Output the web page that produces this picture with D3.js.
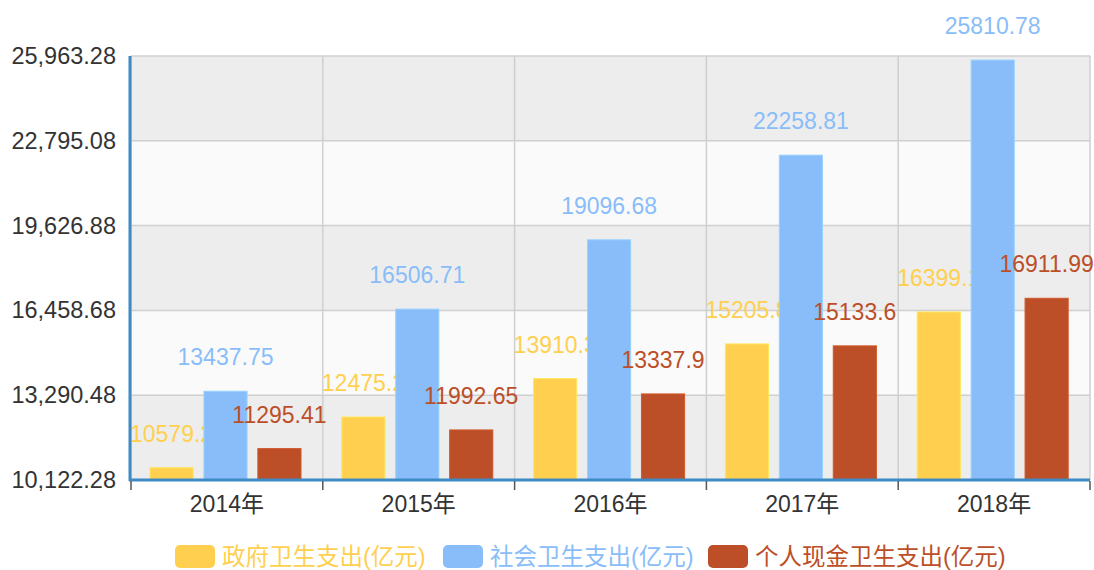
<!DOCTYPE html>
<html>
<head>
<meta charset="utf-8">
<script src="https://cdn.jsdelivr.net/npm/d3@7"></script>
<style>
  body { margin: 0; background: #fff; }
  text { font-family: "Liberation Sans", Arial, "Noto Sans CJK SC", sans-serif; }
</style>
</head>
<body>
<div id="main"></div>
<script>
const years = ["2014年", "2015年", "2016年", "2017年", "2018年"];
const seriesNames = ["政府卫生支出(亿元)", "社会卫生支出(亿元)", "个人现金卫生支出(亿元)"];
const govSpend = [10579.2, 12475.2, 13910.3, 15205.8, 16399.1];
const socSpend = [13437.75, 16506.71, 19096.68, 22258.81, 25810.78];
const perSpend = [11295.41, 11992.65, 13337.9, 15133.6, 16911.99];
const yTicks = [10122.28, 13290.48, 16458.68, 19626.88, 22795.08, 25963.28];
const colors = ["#ffd04f", "#89bdf9", "#bc4f27"];

const ctx = { WIDTH: 1094, HEIGHT: 570 };

function draw() {
  const left = 131, right = 1090, top = 56, bottom = 480;
  const svg = d3.select("#main").append("svg")
      .attr("width", ctx.WIDTH).attr("height", ctx.HEIGHT);

  const x = d3.scaleBand().domain(years).range([left, right]);
  const y = d3.scaleLinear().domain([yTicks[0], yTicks[yTicks.length - 1]]).range([bottom, top]);
  // bars sit a bit left of the category centre, like the original
  const xs = d3.scaleBand().domain(d3.range(3)).range([19, 170]).paddingInner(0.2);

  // alternating bands
  const bands = d3.range(yTicks.length - 1);
  svg.append("g").selectAll("rect").data(bands).enter().append("rect")
      .attr("x", left).attr("width", right - left)
      .attr("y", i => y(yTicks[i + 1])).attr("height", i => y(yTicks[i]) - y(yTicks[i + 1]))
      .attr("fill", i => i % 2 === 0 ? "#ededed" : "#fafafa");

  // grid
  svg.append("g").selectAll("line").data(yTicks).enter().append("line")
      .attr("x1", left).attr("x2", right).attr("y1", d => y(d)).attr("y2", d => y(d))
      .attr("stroke", "#cfcfcf").attr("stroke-width", 1.5);
  const bounds = years.map(d => x(d)).concat([right]);
  svg.append("g").selectAll("line").data(bounds).enter().append("line")
      .attr("x1", d => d).attr("x2", d => d).attr("y1", top).attr("y2", bottom)
      .attr("stroke", "#cfcfcf").attr("stroke-width", 1.5);

  // bars + labels, one series after the other (later bars cover earlier labels)
  const series = [govSpend, socSpend, perSpend];
  series.forEach((vals, si) => {
    const g = svg.append("g");
    g.selectAll("rect").data(vals).enter().append("rect")
        .attr("x", (d, i) => x(years[i]) + xs(si))
        .attr("width", xs.bandwidth())
        .attr("y", d => y(d))
        .attr("height", d => bottom - y(d))
        .attr("fill", colors[si])
        .attr("stroke", d3.color(colors[si]).brighter(0.3))
        .attr("stroke-width", 1);
    g.selectAll("text").data(vals).enter().append("text")
        .attr("x", (d, i) => x(years[i]) + xs(si) + xs.bandwidth() / 2)
        .attr("y", d => y(d) - 26)
        .attr("text-anchor", "middle")
        .attr("font-size", 23)
        .attr("fill", colors[si])
        .text(d => d);
  });

  // axes lines
  svg.append("line").attr("x1", left - 1).attr("x2", left - 1).attr("y1", top).attr("y2", bottom + 1)
      .attr("stroke", "#3d8ac4").attr("stroke-width", 3);
  svg.append("line").attr("x1", left - 2).attr("x2", right).attr("y1", bottom).attr("y2", bottom)
      .attr("stroke", "#3d8ac4").attr("stroke-width", 3);
  svg.append("g").selectAll("line").data(bounds).enter().append("line")
      .attr("x1", d => d).attr("x2", d => d).attr("y1", bottom + 1).attr("y2", bottom + 10)
      .attr("stroke", "#555").attr("stroke-width", 1.5);

  // y labels
  const fmt = d3.format(",.2f");
  svg.append("g").selectAll("text").data(yTicks).enter().append("text")
      .attr("x", 116).attr("y", d => y(d) + 8)
      .attr("text-anchor", "end").attr("font-size", 23.5).attr("fill", "#333")
      .text(d => fmt(d));

  // x labels
  svg.append("g").selectAll("text").data(years).enter().append("text")
      .attr("x", d => x(d) + x.bandwidth() / 2).attr("y", 512)
      .attr("text-anchor", "middle").attr("font-size", 23).attr("fill", "#333")
      .text(d => d);

  // legend
  const legX = [175, 443, 708];
  const leg = svg.append("g").selectAll("g").data(seriesNames).enter().append("g")
      .attr("transform", (d, i) => `translate(${legX[i]},545)`);
  leg.append("rect").attr("width", 40).attr("height", 23).attr("rx", 5)
      .attr("fill", (d, i) => colors[i]);
  leg.append("text").attr("x", 47).attr("y", 20).attr("font-size", 23.5)
      .attr("fill", (d, i) => colors[i]).text(d => d);
}

draw();
</script>
</body>
</html>
